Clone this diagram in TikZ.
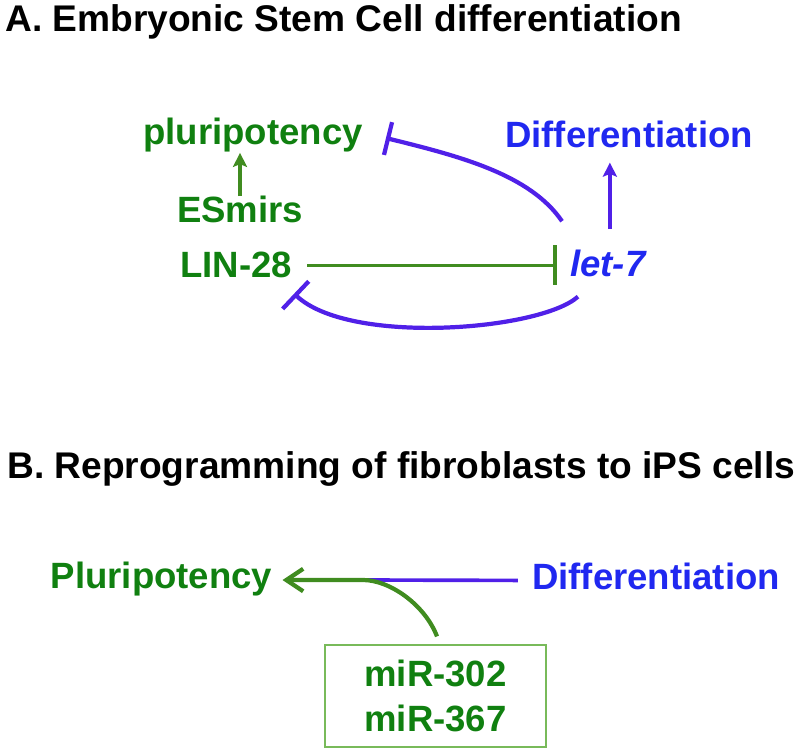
\documentclass[tikz,border=0pt]{standalone}
\usepackage{fontspec}
\setmainfont{Liberation Sans}
\usetikzlibrary{arrows.meta,calc}
\definecolor{pgreen}{RGB}{16,128,16}
\definecolor{lgreen}{RGB}{64,140,32}
\definecolor{boxgreen}{RGB}{120,186,90}
\definecolor{dblue}{RGB}{32,40,240}
\definecolor{lblue}{RGB}{80,32,232}
\begin{document}
\begin{tikzpicture}[x=0.025cm, y=-0.025cm,
  every node/.style={inner sep=0pt, font=\bfseries\fontsize{26}{32}\selectfont},
  title/.style={anchor=base west, font=\bfseries\fontsize{26.4}{32}\selectfont},
  gtext/.style={text=pgreen},
  btext/.style={text=dblue},
  gline/.style={draw=lgreen, line width=2.6pt},
  bline/.style={draw=lblue, line width=3pt},
  uparrow/.style={-{Stealth[length=10pt,width=10pt,inset=2pt]}},
  mirbox/.style={draw=boxgreen, line width=0.8pt, minimum width=5.525cm, minimum height=2.55cm, align=center}]
\useasboundingbox (0,0) rectangle (800,753);
\node[title] (ta) at (5, 32) {A. Embryonic Stem Cell differentiation};
\node[gtext, anchor=base] (pluri) at (253, 145) {pluripotency};
\node[gtext, anchor=base] (esmirs) at (240, 223) {ESmirs};
\node[gtext, anchor=base] (lin28) at (236, 278) {LIN-28};
\node[btext, anchor=base west] (let7) at (570, 277) {\itshape let-7};
\node[btext, anchor=base] (diffa) at (629, 148) {Differentiation};
\node[title] (tb) at (7, 478) {B. Reprogramming of fibroblasts to iPS cells};
\node[gtext, anchor=base] (pluri2) at (161.5, 588) {Pluripotency};
\node[btext, anchor=base] (diffb) at (656, 589) {Differentiation};
\node[gtext, mirbox] (mir) at (435.5, 696) {miR-302\\miR-367};
\coordinate (merge) at (363, 580);
\draw[gline, uparrow, line width=2.4pt] (esmirs.north) -- (esmirs.north |- pluri.south);
\draw[gline, -{Bar[width=28.5pt]}] ($(lin28.east)+(15,0)$) -- ($(lin28.east -| let7.west)+(-13,0)$);
\draw[bline, uparrow, line width=2.6pt] ($(let7.north)+(2,-21)$) -- ($(let7.north |- diffa.south)+(2,14)$);
\draw[bline, -{Bar[width=24pt]}] ($(let7.north west)+(-8,-29)$) .. controls +(-32,-47) and +(73,18) .. ($(pluri.east)+(23,2.5)$);
\draw[bline, -{Bar[width=27pt]}] ($(let7.south west)+(8,19)$) .. controls +(-38,34) and +(55,52) .. ($(lin28.south east)+(2,15)$);
\draw[bline, line width=2.6pt] (merge) -- ($(diffb.west)+(-14,4.5)$);
\draw[gline, line width=3pt, -{Straight Barb[length=12pt,width=16pt]}] ($(mir.north)+(1.5,-8)$) .. controls (425, 605) and (390, 580) .. (merge) -- ($(pluri2.east)+(10,1.5)$);
\end{tikzpicture}
\end{document}
